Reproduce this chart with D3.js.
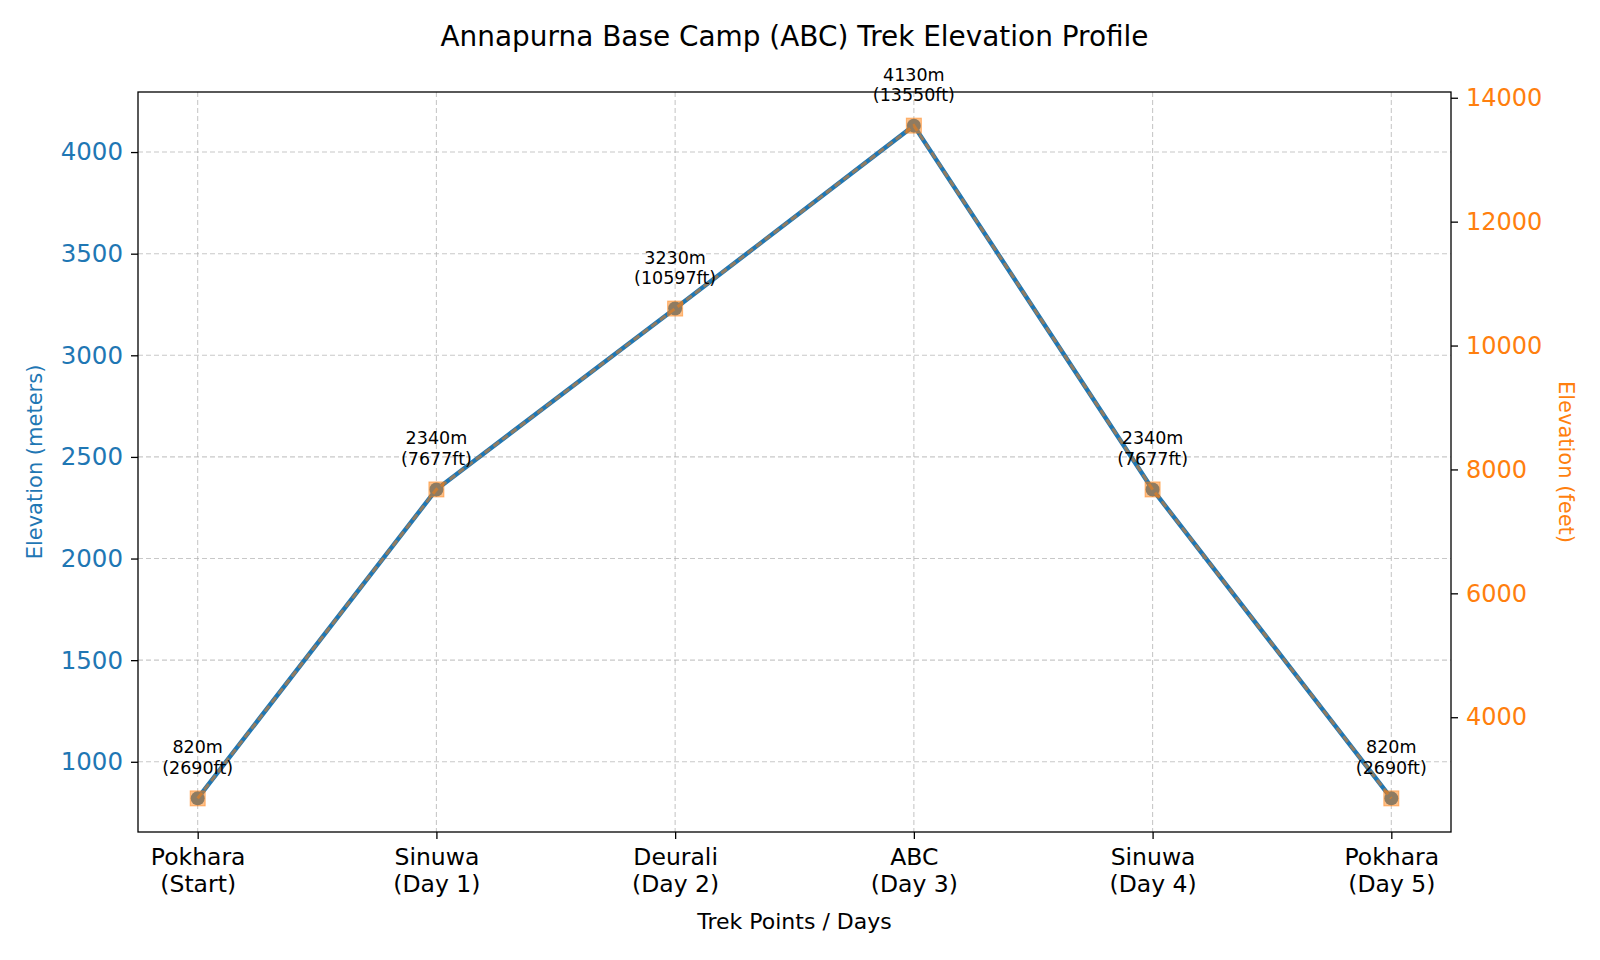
<!DOCTYPE html>
<html>
<head>
<meta charset="utf-8">
<script src="https://cdn.jsdelivr.net/npm/d3@7"></script>
<style>
  html, body { margin: 0; padding: 0; background: #fff; }
  svg { display: block; font-family: "DejaVu Sans", sans-serif; }
</style>
</head>
<body>
<svg id="chart" width="1600" height="960"></svg>
<script>
const categories = ["Pokhara\n(Start)", "Sinuwa\n(Day 1)", "Deurali\n(Day 2)", "ABC\n(Day 3)", "Sinuwa\n(Day 4)", "Pokhara\n(Day 5)"];
const elevationMeters = [820, 2340, 3230, 4130, 2340, 820];
const elevationFeet = [2690, 7677, 10597, 13550, 7677, 2690];
const leftTicks = [1000, 1500, 2000, 2500, 3000, 3500, 4000];
const rightTicks = [4000, 6000, 8000, 10000, 12000, 14000];

const blue = "#1f77b4", orange = "#ff7f0e";
const svg = d3.select("#chart");
const M = {left: 138, right: 1451, top: 92, bottom: 832};
const M2FT = 3.28084;

const mMin = d3.min(elevationMeters), mMax = d3.max(elevationMeters);
const pad = (mMax - mMin) * 0.05;
const x = d3.scaleLinear().domain([-0.25, categories.length - 1 + 0.25]).range([M.left, M.right]);
const y = d3.scaleLinear().domain([mMin - pad, mMax + pad]).range([M.bottom, M.top]);
const y2 = d3.scaleLinear().domain([(mMin - pad) * M2FT, (mMax + pad) * M2FT]).range([M.bottom, M.top]);

function fitWidth(sel, target) {
  const w = sel.node().getComputedTextLength();
  const fs = parseFloat(sel.attr("font-size"));
  sel.attr("font-size", (fs * target / w).toFixed(2));
}

// grid
const grid = svg.append("g");
grid.selectAll("line.h").data(leftTicks).join("line")
  .attr("x1", M.left).attr("x2", M.right)
  .attr("y1", d => y(d)).attr("y2", d => y(d))
  .attr("stroke", "#b0b0b0").attr("stroke-opacity", 0.7).attr("stroke-width", 1.1).attr("stroke-dasharray", "5,3");
grid.selectAll("line.v").data(categories.map((c, i) => i)).join("line")
  .attr("y1", M.top).attr("y2", M.bottom)
  .attr("x1", d => x(d)).attr("x2", d => x(d))
  .attr("stroke", "#b0b0b0").attr("stroke-opacity", 0.7).attr("stroke-width", 1.1).attr("stroke-dasharray", "5,3");

// blue line
const lineM = d3.line().x((d, i) => x(i)).y(d => y(d));
svg.append("path").datum(elevationMeters).attr("d", lineM)
  .attr("fill", "none").attr("stroke", blue).attr("stroke-width", 4.5).attr("stroke-linejoin", "round");
svg.append("g").selectAll("circle").data(elevationMeters).join("circle")
  .attr("cx", (d, i) => x(i)).attr("cy", d => y(d)).attr("r", 7).attr("fill", blue);

// orange dashed line (feet)
const lineF = d3.line().x((d, i) => x(i)).y(d => y2(d));
svg.append("path").datum(elevationFeet).attr("d", lineF)
  .attr("fill", "none").attr("stroke", orange).attr("stroke-opacity", 0.5).attr("stroke-width", 3)
  .attr("stroke-dasharray", "7,4");
svg.append("g").selectAll("rect").data(elevationFeet).join("rect")
  .attr("x", (d, i) => x(i) - 7.5).attr("y", d => y2(d) - 7.5).attr("width", 15).attr("height", 15)
  .attr("fill", orange).attr("fill-opacity", 0.5).attr("stroke", orange).attr("stroke-opacity", 0.5).attr("stroke-width", 1);

// annotations
const ann = svg.append("g").attr("font-size", 17.5).attr("text-anchor", "middle").attr("fill", "#000");
elevationMeters.forEach((m, i) => {
  const t = ann.append("text").attr("x", x(i)).attr("y", y(m) - 45);
  t.append("tspan").attr("x", x(i)).attr("dy", 0).text(m + "m");
  t.append("tspan").attr("x", x(i)).attr("dy", 20.5).text("(" + elevationFeet[i] + "ft)");
});

// frame
svg.append("rect").attr("x", M.left).attr("y", M.top).attr("width", M.right - M.left).attr("height", M.bottom - M.top)
  .attr("fill", "none").attr("stroke", "#000").attr("stroke-width", 1.3);

// left axis
const gL = svg.append("g").attr("transform", `translate(${M.left},0)`)
  .call(d3.axisLeft(y).tickValues(leftTicks).tickSize(7).tickPadding(8).tickFormat(d3.format("d")));
gL.select(".domain").remove();
gL.selectAll("line").attr("stroke", "#000").attr("stroke-width", 1.3);
gL.selectAll("text").attr("fill", blue).attr("font-size", 24.5).attr("font-family", "DejaVu Sans");

// right axis
const gR = svg.append("g").attr("transform", `translate(${M.right},0)`)
  .call(d3.axisRight(y2).tickValues(rightTicks).tickSize(7).tickPadding(8).tickFormat(d3.format("d")));
gR.select(".domain").remove();
gR.selectAll("line").attr("stroke", "#000").attr("stroke-width", 1.3);
gR.selectAll("text").attr("fill", orange).attr("font-size", 24).attr("font-family", "DejaVu Sans");

// bottom axis
const gB = svg.append("g").attr("transform", `translate(0,${M.bottom})`)
  .call(d3.axisBottom(x).tickValues(categories.map((c, i) => i)).tickSize(7).tickPadding(7).tickFormat(() => ""));
gB.select(".domain").remove();
gB.selectAll("line").attr("stroke", "#000").attr("stroke-width", 1.3);
gB.selectAll(".tick text").each(function(d) {
  const parts = categories[d].split("\n");
  const t = d3.select(this).attr("font-size", 23.5).attr("font-family", "DejaVu Sans")
    .attr("fill", "#000").attr("dy", null).attr("y", 33);
  parts.forEach((p, k) => t.append("tspan").attr("x", 0).attr("dy", k === 0 ? 0 : 27).text(p));
});

// titles
const title = svg.append("text").attr("x", (M.left + M.right) / 2).attr("y", 46).attr("text-anchor", "middle")
  .attr("font-size", 26).attr("fill", "#000").text("Annapurna Base Camp (ABC) Trek Elevation Profile");
fitWidth(title, 708);
svg.append("text").attr("x", (M.left + M.right) / 2).attr("y", 929).attr("text-anchor", "middle")
  .attr("font-size", 22).attr("fill", "#000").text("Trek Points / Days");
svg.append("text").attr("transform", `translate(42,${(M.top + M.bottom) / 2}) rotate(-90)`).attr("text-anchor", "middle")
  .attr("font-size", 21).attr("fill", blue).text("Elevation (meters)");
svg.append("text").attr("transform", `translate(1559,${(M.top + M.bottom) / 2}) rotate(90)`).attr("text-anchor", "middle")
  .attr("font-size", 21).attr("fill", orange).text("Elevation (feet)");
</script>
</body>
</html>
